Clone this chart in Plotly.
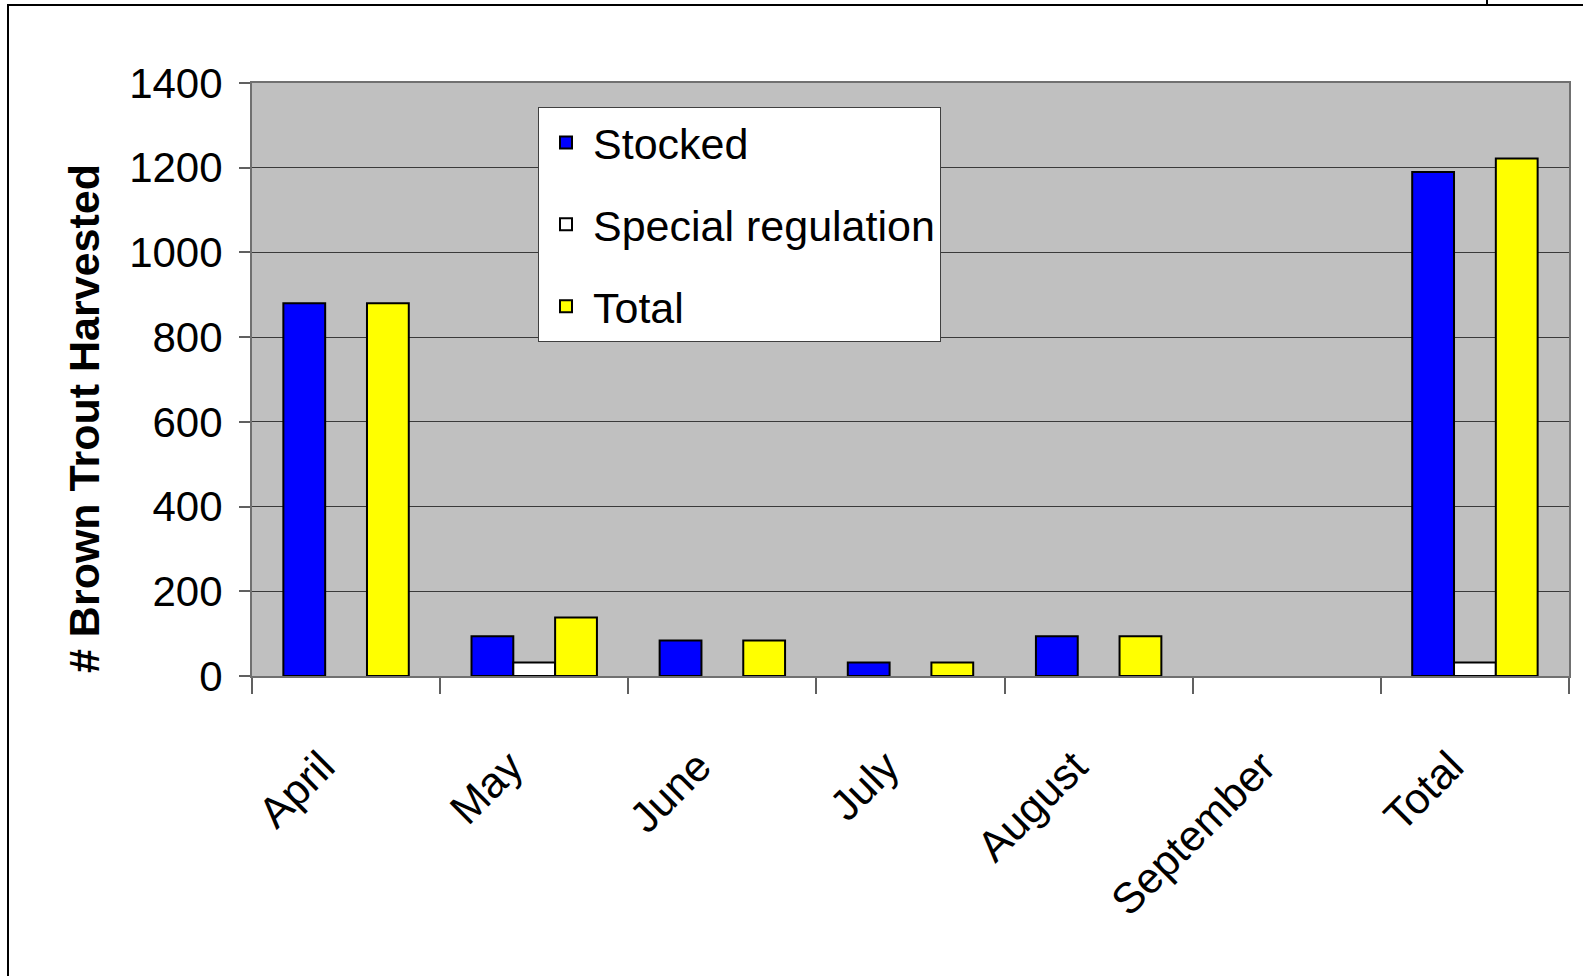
import plotly.graph_objects as go

months = ["April", "May", "June", "July", "August", "September", "Total"]
stocked = [880, 94, 84, 32, 94, 0, 1190]
special = [0, 32, 0, 0, 0, 0, 32]
total = [880, 138, 84, 32, 94, 0, 1222]
y_ticks = [0, 200, 400, 600, 800, 1000, 1200, 1400]

W, H = 1583, 976
L, R, T, B = 252, 14, 83, 300
pw, ph = W - L - R, H - T - B

def px(x):
    return (x - L) / pw

def py(y):
    return (H - B - y) / ph

FONT = "Liberation Sans, Arial, sans-serif"

fig = go.Figure()
for name, vals, col in [("Stocked", stocked, "#0000FF"),
                        ("Special regulation", special, "#FFFFFF"),
                        ("Total", total, "#FFFF00")]:
    fig.add_trace(go.Bar(
        x=months, y=[v if v else None for v in vals], name=name, legendgroup=name,
        marker=dict(color=col, line=dict(color="black", width=2)),
    ))

fig.update_layout(
    width=W, height=H,
    margin=dict(l=L, r=R, t=T, b=B, pad=0),
    paper_bgcolor="white",
    plot_bgcolor="#C0C0C0",
    barmode="group",
    bargap=1/3,
    bargroupgap=0,
    font=dict(family=FONT, size=42, color="black"),
    legend=dict(
        x=px(538), y=py(107), xanchor="left", yanchor="top",
        bgcolor="white", bordercolor="#404040", borderwidth=1,
        font=dict(family=FONT, size=43, color="black"),
        traceorder="grouped", tracegroupgap=23, itemwidth=44,
    ),
    showlegend=True,
)

fig.update_xaxes(
    type="category",
    tickangle=-45,
    ticks="outside", tickson="boundaries", ticklen=16, tickcolor="#606060", tickwidth=2,
    showline=True, linecolor="#707070", linewidth=2, mirror=True,
    showgrid=False,
    tickfont=dict(family=FONT, size=43, color="black"),
    ticklabelstandoff=46, ticklabelshift=-24,
)
fig.update_yaxes(
    range=[0, 1400], tickvals=y_ticks,
    ticks="outside", ticklen=11, tickcolor="#606060", tickwidth=2,
    showline=True, linecolor="#707070", linewidth=2, mirror=True,
    showgrid=True, gridcolor="#3a3a3a", gridwidth=1,
    zeroline=False,
    tickfont=dict(family=FONT, size=42, color="black"),
    ticklabelstandoff=8,
)

fig.add_annotation(text="<b># Brown Trout Harvested</b>", xref="paper", yref="paper",
                   x=px(84), y=py(418), textangle=-90, showarrow=False,
                   xanchor="center", yanchor="middle",
                   font=dict(family=FONT, size=43, color="black"))

# outer frame (left and top edges)
fig.add_shape(type="path", xref="paper", yref="paper",
              path=f"M {px(8)},{py(H+5)} L {px(8)},{py(5)} L {px(W+5)},{py(5)}",
              line=dict(color="black", width=2))
fig.add_shape(type="line", xref="paper", yref="paper",
              x0=px(1487), x1=px(1487), y0=py(5), y1=py(-5),
              line=dict(color="black", width=2))

fig.write_html("out.html", config={"displayModeBar": False},
               post_script="document.body.style.margin='0';document.body.style.overflow='hidden';")
